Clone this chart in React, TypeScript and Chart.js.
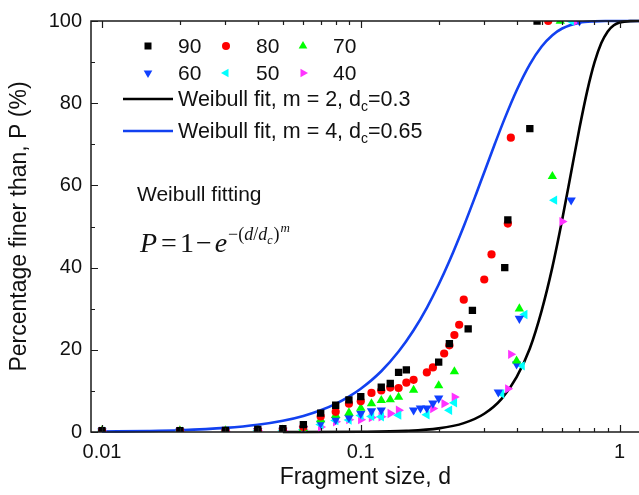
import React, { useEffect, useRef } from 'react';
import { Chart, registerables } from 'chart.js';

Chart.register(...registerables);

// ---------- data ----------
const seriesLabels = ['90', '80', '70', '60', '50', '40'];

const d90 = [0.01, 0.02, 0.03, 0.04, 0.05, 0.06, 0.07, 0.08, 0.09, 0.1, 0.12, 0.13, 0.14, 0.15, 0.2, 0.22, 0.26, 0.27, 0.36, 0.37, 0.45, 0.48];
const p90 = [0.3, 0.3, 0.4, 0.6, 0.8, 1.8, 4.6, 6.5, 7.8, 8.6, 10.9, 11.8, 14.5, 15.1, 17.0, 21.5, 25.1, 29.6, 40.0, 51.6, 73.8, 100];

const d80 = [0.01, 0.02, 0.03, 0.04, 0.05, 0.06, 0.07, 0.08, 0.09, 0.1, 0.11, 0.12, 0.13, 0.14, 0.15, 0.16, 0.18, 0.19, 0.21, 0.22, 0.23, 0.24, 0.25, 0.3, 0.32, 0.37, 0.38, 0.53];
const p80 = [0.3, 0.3, 0.3, 0.5, 0.6, 1.2, 3.8, 4.9, 6.9, 7.5, 9.5, 10.1, 10.8, 10.7, 12.0, 12.7, 14.5, 15.7, 19.1, 21.1, 23.6, 26.1, 32.2, 37.1, 43.2, 50.7, 71.6, 100];

const d70 = [0.01, 0.02, 0.03, 0.04, 0.05, 0.06, 0.07, 0.08, 0.09, 0.1, 0.11, 0.12, 0.13, 0.14, 0.16, 0.2, 0.23, 0.4, 0.41, 0.55, 0.59];
const p70 = [0.3, 0.3, 0.3, 0.4, 0.5, 0.9, 3.0, 4.1, 4.7, 5.8, 6.9, 7.7, 7.9, 8.5, 10.2, 11.3, 14.7, 17.3, 30.0, 62.2, 100];

const d60 = [0.01, 0.02, 0.03, 0.04, 0.05, 0.06, 0.07, 0.08, 0.09, 0.1, 0.11, 0.12, 0.16, 0.17, 0.18, 0.19, 0.2, 0.34, 0.4, 0.41, 0.65, 0.7];
const p60 = [0.2, 0.2, 0.2, 0.3, 0.4, 0.8, 2.1, 3.0, 3.5, 4.5, 5.1, 5.3, 5.3, 5.8, 5.8, 7.0, 8.2, 9.7, 16.5, 27.6, 56.4, 100];

const d50 = [0.01, 0.02, 0.03, 0.04, 0.05, 0.06, 0.07, 0.08, 0.09, 0.1, 0.11, 0.12, 0.14, 0.18, 0.22, 0.23, 0.35, 0.42, 0.43, 0.56, 0.65];
const p50 = [0.2, 0.2, 0.2, 0.3, 0.3, 0.6, 1.8, 2.8, 2.9, 4.0, 3.8, 3.7, 4.1, 4.2, 5.3, 7.1, 9.3, 16.1, 28.6, 56.4, 100];

const d40 = [0.01, 0.02, 0.03, 0.04, 0.05, 0.06, 0.07, 0.08, 0.09, 0.1, 0.11, 0.12, 0.13, 0.14, 0.19, 0.21, 0.23, 0.37, 0.38, 0.6, 0.68];
const p40 = [0.2, 0.2, 0.2, 0.3, 0.3, 0.5, 1.2, 2.5, 3.0, 3.0, 3.5, 3.7, 4.5, 5.3, 5.7, 6.9, 8.5, 10.5, 18.9, 51.2, 100];

// Weibull fit curves
const fitBlueD = [0.01, 0.015, 0.02, 0.03, 0.04, 0.05, 0.06, 0.07, 0.08, 0.09, 0.1, 0.12, 0.14, 0.16, 0.18, 0.2, 0.22, 0.25, 0.28, 0.3, 0.33, 0.36, 0.4, 0.45, 0.5, 0.55, 0.6, 0.7, 0.8, 0.9, 1.0, 1.2];
const fitBlueP = [0.11, 0.25, 0.44, 1.0, 1.76, 2.74, 3.92, 5.3, 6.86, 8.61, 10.52, 14.79, 19.57, 24.75, 30.23, 35.88, 41.59, 50.07, 58.15, 63.21, 70.18, 76.31, 83.1, 89.46, 93.78, 96.53, 98.17, 99.57, 99.92, 99.99, 100, 100];

const fitBlackD = [0.05, 0.1, 0.15, 0.2, 0.25, 0.3, 0.35, 0.4, 0.45, 0.5, 0.55, 0.6, 0.65, 0.7, 0.75, 0.8, 0.85, 0.9, 0.95, 1.0, 1.1, 1.2];
const fitBlackP = [0.0, 0.06, 0.28, 0.89, 2.16, 4.44, 8.07, 13.36, 20.32, 29.54, 40.11, 51.62, 63.21, 73.94, 83.0, 89.92, 94.63, 97.47, 98.96, 99.63, 99.97, 100];

const fitLabels = ['Weibull fit, m = 2, d', 'Weibull fit, m = 4, d'];
const fitSuffix = ['=0.3', '=0.65'];

const xTickValues = [0.01, 0.1, 1];
const xTickLabels = ['0.01', '0.1', '1'];
const yTickValues = [0, 20, 40, 60, 80, 100];
const yMinorValues = [10, 30, 50, 70, 90];

// ---------- styles ----------
const SANS = '"Liberation Sans", Arial, Helvetica, sans-serif';
const SERIF = '"Liberation Serif", "Times New Roman", serif';
const BLUE = '#1241f0';
const C_BLACK = '#000000';
const C_RED = '#ff0000';
const C_GREEN = '#00ff00';
const C_BLUE = '#1040ff';
const C_CYAN = '#00ffff';
const C_MAG = '#ff33ff';

const pts = (d: number[], p: number[]) => d.map((x, i) => ({ x, y: p[i] }));

function markerSet(label: string, d: number[], p: number[], color: string, style: string, rotation: number, radius: number) {
  return {
    label,
    data: pts(d, p),
    showLine: false,
    pointStyle: style,
    rotation,
    pointRadius: radius,
    pointHoverRadius: radius,
    backgroundColor: color,
    borderColor: color,
    pointBorderWidth: 0,
    borderWidth: 0,
    clip: 0,
  };
}

function drawMarker(ctx: CanvasRenderingContext2D, kind: string, x: number, y: number, color: string) {
  ctx.fillStyle = color;
  ctx.beginPath();
  const r = 5;
  if (kind === 'square') {
    ctx.rect(x - 3.5, y - 3.5, 7, 7);
  } else if (kind === 'circle') {
    ctx.arc(x, y, 4, 0, Math.PI * 2);
  } else {
    const ang = kind === 'up' ? -90 : kind === 'down' ? 90 : kind === 'left' ? 180 : 0;
    for (let k = 0; k < 3; k++) {
      const a = ((ang + k * 120) * Math.PI) / 180;
      const px = x + r * Math.cos(a);
      const py = y + r * Math.sin(a);
      if (k === 0) ctx.moveTo(px, py);
      else ctx.lineTo(px, py);
    }
    ctx.closePath();
  }
  ctx.fill();
}

const overlay = {
  id: 'overlay',
  afterDraw(chart: any) {
    const { ctx, chartArea: a, scales } = chart;
    const xs = scales.x;
    const ys = scales.y;
    ctx.save();
    // frame
    ctx.strokeStyle = '#1a1a1a';
    ctx.lineWidth = 1.5;
    ctx.beginPath();
    ctx.moveTo(a.right + 10, a.top);
    ctx.lineTo(a.left, a.top);
    ctx.lineTo(a.left, a.bottom);
    ctx.lineTo(a.right + 10, a.bottom);
    ctx.stroke();
    // x ticks (inward, bottom and top)
    ctx.lineWidth = 1.2;
    ctx.beginPath();
    const xDecades = [0.01, 0.1, 1];
    xDecades.forEach((dec) => {
      for (let k = 1; k <= 9; k++) {
        const v = dec * k;
        if (v < xs.min || v > xs.max) continue;
        const px = Math.round(xs.getPixelForValue(v)) + 0.5;
        const len = k === 1 ? 7 : 4;
        ctx.moveTo(px, a.bottom);
        ctx.lineTo(px, a.bottom - len);
        ctx.moveTo(px, a.top);
        ctx.lineTo(px, a.top + len);
      }
    });
    yTickValues.forEach((v) => {
      const py = Math.round(ys.getPixelForValue(v)) + 0.5;
      ctx.moveTo(a.left, py);
      ctx.lineTo(a.left + 7, py);
    });
    yMinorValues.forEach((v) => {
      const py = Math.round(ys.getPixelForValue(v)) + 0.5;
      ctx.moveTo(a.left, py);
      ctx.lineTo(a.left + 4, py);
    });
    ctx.stroke();

    // legend
    const kinds = ['square', 'circle', 'up', 'down', 'left', 'right'];
    const colors = [C_BLACK, C_RED, C_GREEN, C_BLUE, C_CYAN, C_MAG];
    const colX = [148, 226, 303];
    const rowY = [46, 73];
    ctx.font = `21px ${SANS}`;
    ctx.textBaseline = 'middle';
    ctx.textAlign = 'left';
    for (let i = 0; i < 6; i++) {
      const cx = colX[i % 3];
      const cy = rowY[Math.floor(i / 3)];
      drawMarker(ctx, kinds[i], cx, cy, colors[i]);
      ctx.fillStyle = '#111';
      ctx.fillText(seriesLabels[i], cx + 30, cy + 1);
    }
    const lineY = [99, 131];
    const lineColors = [C_BLACK, BLUE];
    for (let i = 0; i < 2; i++) {
      const y = lineY[i];
      ctx.strokeStyle = lineColors[i];
      ctx.lineWidth = 2.5;
      ctx.beginPath();
      ctx.moveTo(123, y);
      ctx.lineTo(173, y);
      ctx.stroke();
      ctx.fillStyle = '#111';
      ctx.font = `21.5px ${SANS}`;
      let x = 178;
      ctx.fillText(fitLabels[i], x, y + 1);
      x += ctx.measureText(fitLabels[i]).width;
      ctx.font = `14px ${SANS}`;
      ctx.fillText('c', x, y + 8);
      x += ctx.measureText('c').width;
      ctx.font = `21.5px ${SANS}`;
      ctx.fillText(fitSuffix[i], x, y + 1);
    }

    // annotation
    ctx.font = `21px ${SANS}`;
    ctx.fillStyle = '#111';
    ctx.fillText('Weibull fitting', 137, 195);

    // formula P = 1 - e^{-(d/d_c)^m}
    ctx.textBaseline = 'alphabetic';
    const segs: [string, string, number, number][] = [
      ['P', `italic 28px ${SERIF}`, 0, 0],
      ['=', `28px ${SERIF}`, 4, 0],
      ['1', `28px ${SERIF}`, 3, 0],
      ['\u2212', `28px ${SERIF}`, 2, 0],
      ['e', `italic 28px ${SERIF}`, 3, 0],
      ['\u2212(', `18px ${SERIF}`, 1, -12],
      ['d', `italic 18px ${SERIF}`, 0, -12],
      ['/', `18px ${SERIF}`, 0, -12],
      ['d', `italic 18px ${SERIF}`, 0, -12],
      ['c', `italic 12px ${SERIF}`, 0, -8],
      [')', `18px ${SERIF}`, 1, -12],
      ['m', `italic 13px ${SERIF}`, 1, -20],
    ];
    let fx = 140;
    const base = 252;
    segs.forEach(([t, f, dx, dy]) => {
      ctx.font = f;
      fx += dx;
      ctx.fillText(t, fx, base + dy);
      fx += ctx.measureText(t).width;
    });
    ctx.restore();
  },
};

export default function App() {
  const ref = useRef<HTMLCanvasElement>(null);
  useEffect(() => {
    if (!ref.current) return;
    const chart = new Chart(ref.current, {
      type: 'scatter',
      data: {
        datasets: [
          markerSet(seriesLabels[0], d90, p90, C_BLACK, 'rect', 0, 5.2),
          markerSet(seriesLabels[1], d80, p80, C_RED, 'circle', 0, 4.1),
          markerSet(seriesLabels[2], d70, p70, C_GREEN, 'triangle', 0, 5.4),
          markerSet(seriesLabels[3], d60, p60, C_BLUE, 'triangle', 180, 5.4),
          markerSet(seriesLabels[4], d50, p50, C_CYAN, 'triangle', 270, 5.4),
          markerSet(seriesLabels[5], d40, p40, C_MAG, 'triangle', 90, 5.4),
          {
            label: 'fitA',
            data: pts(fitBlackD, fitBlackP),
            showLine: true,
            pointRadius: 0,
            borderColor: C_BLACK,
            borderWidth: 2.6,
            cubicInterpolationMode: 'monotone',
            clip: 2,
          },
          {
            label: 'fitB',
            data: pts(fitBlueD, fitBlueP),
            showLine: true,
            pointRadius: 0,
            borderColor: BLUE,
            borderWidth: 2.6,
            cubicInterpolationMode: 'monotone',
            clip: 2,
          },
        ] as any,
      },
      options: {
        animation: false,
        responsive: false,
        devicePixelRatio: 1,
        events: [],
        layout: { padding: { top: 15, right: 5, left: 0, bottom: 0 } },
        plugins: { legend: { display: false }, tooltip: { enabled: false } },
        scales: {
          x: {
            type: 'logarithmic',
            min: 0.00907,
            max: 1.195,
            afterBuildTicks: (s: any) => {
              s.ticks = xTickValues.map((v) => ({ value: v }));
            },
            afterFit: (s: any) => {
              s.height = 63;
            },
            ticks: {
              callback: (_v: any, i: number) => xTickLabels[i],
              autoSkip: false,
              maxRotation: 0,
              padding: 8,
              color: '#111',
              font: { family: SANS, size: 20 },
            },
            grid: { display: false, drawTicks: false },
            border: { display: false },
            title: {
              display: true,
              text: 'Fragment size, d',
              color: '#111',
              font: { family: SANS, size: 23 },
              padding: { top: 0, bottom: 4 },
            },
          },
          y: {
            min: 0,
            max: 100,
            afterBuildTicks: (s: any) => {
              s.ticks = yTickValues.map((v) => ({ value: v }));
            },
            afterFit: (s: any) => {
              s.width = 91;
            },
            ticks: {
              callback: (v: any) => String(v),
              autoSkip: false,
              padding: 9,
              color: '#111',
              font: { family: SANS, size: 20 },
            },
            grid: { display: false, drawTicks: false },
            border: { display: false },
            title: {
              display: true,
              text: 'Percentage finer than, P (%)',
              color: '#111',
              font: { family: SANS, size: 23 },
              padding: { top: 6, bottom: 0 },
            },
          },
        },
      } as any,
      plugins: [overlay],
    });
    return () => chart.destroy();
  }, []);
  return (
    <div style={{ position: 'fixed', left: 0, top: 0, width: 639, height: 495, overflow: 'hidden', background: '#fff' }}>
      <canvas ref={ref} width={645} height={495} style={{ display: 'block', width: 645, height: 495 }} />
    </div>
  );
}
